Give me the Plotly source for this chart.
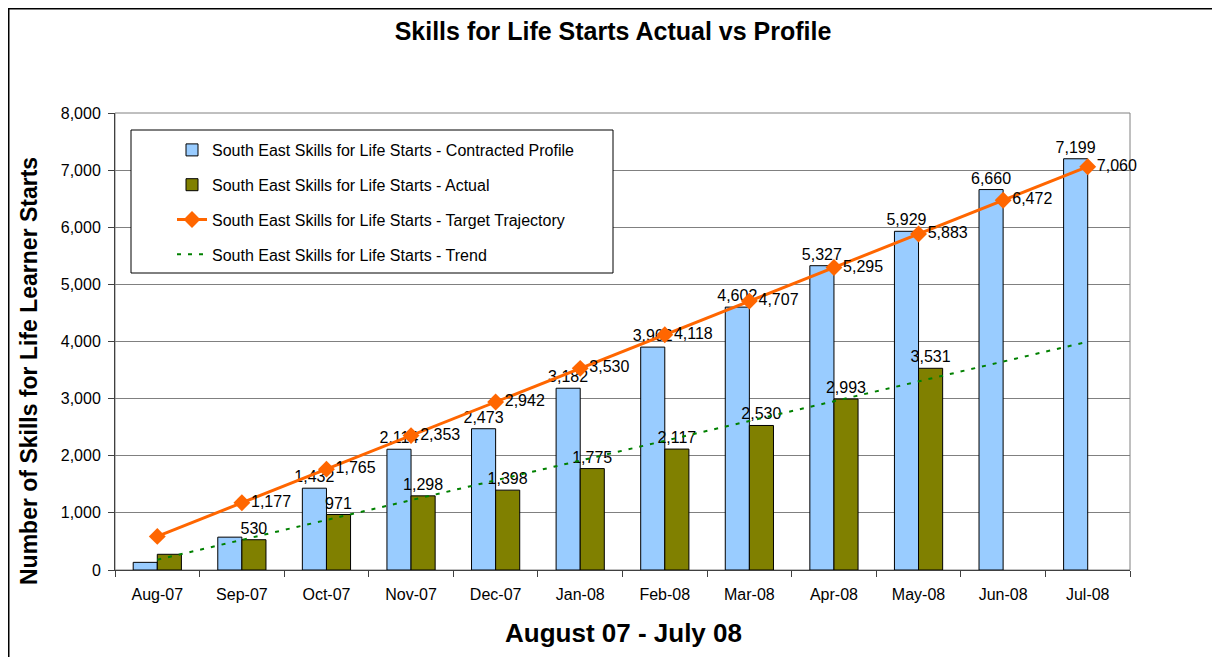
import plotly.graph_objects as go

# chart data
months = ["Aug-07", "Sep-07", "Oct-07", "Nov-07", "Dec-07", "Jan-08",
          "Feb-08", "Mar-08", "Apr-08", "May-08", "Jun-08", "Jul-08"]
profile = [134, 575, 1432, 2114, 2473, 3182, 3902, 4602, 5327, 5929, 6660, 7199]
actual = [275, 530, 971, 1298, 1398, 1775, 2117, 2530, 2993, 3531]
target = [588, 1177, 1765, 2353, 2942, 3530, 4118, 4707, 5295, 5883, 6472, 7060]
trend = [180, 530, 875, 1220, 1570, 1915, 2260, 2610, 2955, 3300, 3650, 3995]

# months without a printed data label in the original
profile_hidden = ["Aug-07", "Sep-07"]
actual_hidden = ["Aug-07"]
target_hidden = ["Aug-07"]

def labels(values, hidden):
    return ["" if m in hidden else f"{v:,}" for m, v in zip(months, values)]

FONT = "Arial, Liberation Sans, sans-serif"

# the page body adds an 8px margin, so the figure is drawn 8px smaller
OFF = 8
W, H = 1220 - OFF, 657 - OFF
# plot area in reference pixels
L, R, T, B = 115, 1130, 113, 570

def px(x):
    return (x - L) / (R - L)

def py(y):
    return (B - y) / (B - T)

fig = go.Figure()

fig.add_trace(go.Bar(
    x=months, y=profile, name="South East Skills for Life Starts - Contracted Profile",
    marker=dict(color="#99CCFF", line=dict(color="black", width=1)),
    text=labels(profile, profile_hidden), textposition="outside",
    constraintext="none", cliponaxis=False,
    textfont=dict(size=16, color="black", family=FONT),
    legendgroup="a",
))
fig.add_trace(go.Bar(
    x=months[:len(actual)], y=actual, name="South East Skills for Life Starts - Actual",
    marker=dict(color="#808000", line=dict(color="black", width=1)),
    text=labels(actual, actual_hidden), textposition="outside",
    constraintext="none", cliponaxis=False,
    textfont=dict(size=16, color="black", family=FONT),
    legendgroup="b",
))
fig.add_trace(go.Scatter(
    x=months, y=target, name="South East Skills for Life Starts - Target Trajectory",
    mode="lines+markers+text",
    line=dict(color="#FF6600", width=3),
    marker=dict(symbol="diamond", size=13, color="#FF6600"),
    text=labels(target, target_hidden), textposition="middle right",
    textfont=dict(size=16, color="black", family=FONT),
    cliponaxis=False,
    legendgroup="c",
))
fig.add_trace(go.Scatter(
    x=months, y=trend, name="South East Skills for Life Starts - Trend",
    mode="lines",
    line=dict(color="#008000", width=2, dash="4px,7px"),
    legendgroup="d",
))

fig.update_layout(
    width=W, height=H,
    margin=dict(l=L - OFF, r=W - (R - OFF), t=T - OFF, b=H - (B - OFF)),
    paper_bgcolor="white", plot_bgcolor="white",
    font=dict(family=FONT, size=16, color="black"),
    barmode="group", bargap=0.43, bargroupgap=0,
    title=dict(text="<b>Skills for Life Starts Actual vs Profile</b>",
               x=(613 - OFF) / W, xref="container", xanchor="center",
               y=1 - (31 - OFF) / H, yref="container", yanchor="middle",
               font=dict(size=25, family=FONT, color="black")),
    xaxis=dict(type="category", range=[-0.5, 11.5], tickson="boundaries",
               ticks="outside", ticklen=6, ticklabelstandoff=10,
               tickcolor="#404040", showline=True, linecolor="#404040", linewidth=1,
               showgrid=False, tickfont=dict(size=16)),
    yaxis=dict(range=[0, 8000], dtick=1000, tickformat=",", ticks="outside", ticklen=6,
               ticklabelstandoff=4,
               tickcolor="#404040", showline=True, linecolor="#404040", linewidth=1,
               showgrid=True, gridcolor="#808080", gridwidth=1, zeroline=False,
               tickfont=dict(size=16)),
    legend=dict(x=px(172), y=py(133), xanchor="left", yanchor="top",
                bgcolor="rgba(0,0,0,0)", borderwidth=0,
                tracegroupgap=11, font=dict(size=16, family=FONT)),
    showlegend=True,
    shapes=[
        # plot-area frame (top and right sides in grey)
        dict(type="rect", xref="paper", yref="paper", x0=0, x1=1, y0=0, y1=1,
             line=dict(color="#808080", width=1), layer="below"),
        # legend box
        dict(type="rect", xref="paper", yref="paper",
             x0=px(131), x1=px(613), y0=py(273), y1=py(130),
             line=dict(color="black", width=1), fillcolor="white", layer="above"),
        # outer chart border
        dict(type="rect", xref="paper", yref="paper",
             x0=px(8.5), x1=px(1216), y0=py(670), y1=py(8.5),
             line=dict(color="black", width=2), layer="above"),
    ],
    annotations=[
        dict(text="<b>Number of Skills for Life Learner Starts</b>", textangle=-90,
             xref="paper", yref="paper", x=px(29), y=py(371),
             xanchor="center", yanchor="middle", showarrow=False,
             font=dict(size=23, family=FONT)),
        dict(text="<b>August 07 - July 08</b>",
             xref="paper", yref="paper", x=px(623), y=py(633),
             xanchor="center", yanchor="middle", showarrow=False,
             font=dict(size=26, family=FONT)),
    ],
)

fig.write_html("out.html")
